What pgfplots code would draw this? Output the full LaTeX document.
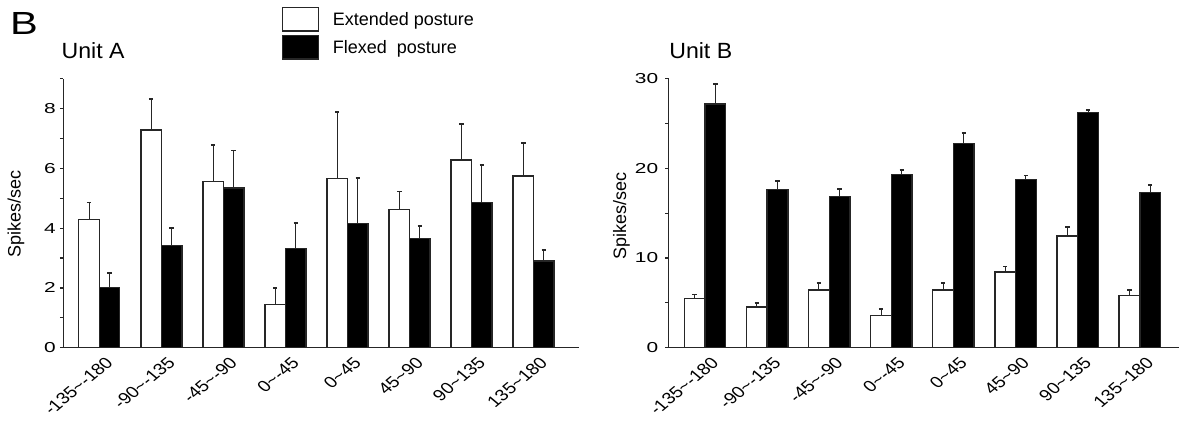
\documentclass[border=0pt]{standalone}
\usepackage{pgfplots}
\usepackage{pgfplotstable}
\pgfplotsset{compat=1.18}
\usepackage{fontspec}
\setmainfont{Liberation Sans}

\pgfplotstableread{
x ext exterr flex flexerr
0 4.29 0.57 2.01 0.48
1 7.29 1.04 3.41 0.60
2 5.57 1.21 5.34 1.26
3 1.44 0.57 3.32 0.84
4 5.67 2.22 4.16 1.51
5 4.63 0.60 3.65 0.42
6 6.28 1.21 4.86 1.26
7 5.75 1.09 2.90 0.37
}\unitA

\pgfplotstableread{
x ext exterr flex flexerr
0 5.46 0.48 27.17 2.20
1 4.53 0.45 17.64 0.96
2 6.43 0.81 16.86 0.81
3 3.61 0.67 19.34 0.48
4 6.43 0.81 22.80 1.11
5 8.43 0.63 18.75 0.45
6 12.47 0.97 26.21 0.34
7 5.79 0.64 17.34 0.78
}\unitB

\pgfplotsset{
  panel/.style={
    scale only axis,
    height=134.5pt,
    ymin=0,
    axis x line*=bottom,
    axis y line*=left,
    axis line style={line width=0.7pt, draw=black!85},
    xtick={0,...,7},
    xticklabels={-135\textasciitilde-180,-90\textasciitilde-135,-45\textasciitilde-90,0\textasciitilde-45,0\textasciitilde45,45\textasciitilde90,90\textasciitilde135,135\textasciitilde180},
    major x tick style={draw=none},
    tick align=outside,
    major tick length=1.7pt,
    minor tick length=1.7pt,
    y tick style={line width=0.6pt, draw=black!85},
    ybar=0pt,
    enlargelimits=false,
    clip=false,
    /pgf/number format/assume math mode=true,
    yticklabel style={font=\fontsize{7.2}{9}\selectfont, inner sep=0pt, xscale=1.45},
    xticklabel style={font=\fontsize{8}{9}\selectfont, inner sep=0pt, xshift=5.2pt, yshift=-4.4pt, xscale=1.2, rotate=45, anchor=east},
    error bars/y dir=plus,
    error bars/y explicit,
    error bars/error bar style={line width=0.5pt, draw=black!85},
    error bars/error mark options={rotate=90, mark size=1.1pt, line width=0.9pt, draw=black!85},
    every axis y label/.style={rotate=90, anchor=center, font=\fontsize{9}{11}\selectfont},
  },
  ext/.style={fill=white, draw=black!85, line width=0.7pt,
    legend image code/.code={\draw[fill=white, draw=black!85, line width=0.7pt] (0pt,-5.0pt) rectangle (18pt,6.8pt);}},
  flex/.style={fill=black, draw=black!85, line width=0.7pt,
    legend image code/.code={\draw[fill=black, draw=black!85, line width=0.7pt] (0pt,-5.0pt) rectangle (18pt,6.8pt);}},
}

\begin{document}
\begin{tikzpicture}
\useasboundingbox (0,0) rectangle (589.5pt,212.5pt);

\begin{axis}[panel,
  at={(31.65pt,38.65pt)}, anchor=south west,
  width=258pt,
  xmin=-0.58, xmax=7.735,
  ymax=9,
  ytick={0,2,4,6,8}, minor ytick={1,3,5,7,9},
  bar width=10.25pt,
  yticklabel style={xshift=-1.2pt},
  ylabel={Spikes/sec},
  every axis y label/.append style={at={(axis description cs:-0.0917,0.497)}},
  legend style={at={(axis description cs:0.4225,1.27)}, anchor=north west,
    draw=none, fill=none, inner sep=0pt, row sep=1.5pt,
    font=\fontsize{9}{11}\selectfont,
    nodes={inner sep=0pt},
    cells={anchor=west},
    /tikz/every odd column/.append style={column sep=6.9pt}},
]
\addplot[ext] table[x=x, y=ext, y error=exterr]{\unitA};
\addplot[flex] table[x=x, y=flex, y error=flexerr]{\unitA};
\legend{Extended posture, Flexed\ \ posture}
\end{axis}

\begin{axis}[panel,
  at={(334.35pt,38.65pt)}, anchor=south west,
  width=255.15pt,
  xmin=-0.584, xmax=7.63,
  ymax=30,
  ytick={0,10,20,30}, minor ytick={5,15,25},
  bar width=10.35pt,
  yticklabel style={xshift=-2.25pt},
  ylabel={Spikes/sec},
  every axis y label/.append style={at={(axis description cs:-0.0925,0.49)}},
]
\addplot[ext] table[x=x, y=ext, y error=exterr]{\unitB};
\addplot[flex] table[x=x, y=flex, y error=flexerr]{\unitB};
\end{axis}

\node[anchor=west, inner sep=0pt, font=\fontsize{16}{18}\selectfont, xscale=1.3] at (4.8pt,200.75pt) {B};
\node[anchor=west, inner sep=0pt, font=\fontsize{11}{13}\selectfont, xscale=1.05] at (30.6pt,187.25pt) {Unit A};
\node[anchor=west, inner sep=0pt, font=\fontsize{11}{13}\selectfont, xscale=1.05] at (334.45pt,187.25pt) {Unit B};
\end{tikzpicture}
\end{document}
